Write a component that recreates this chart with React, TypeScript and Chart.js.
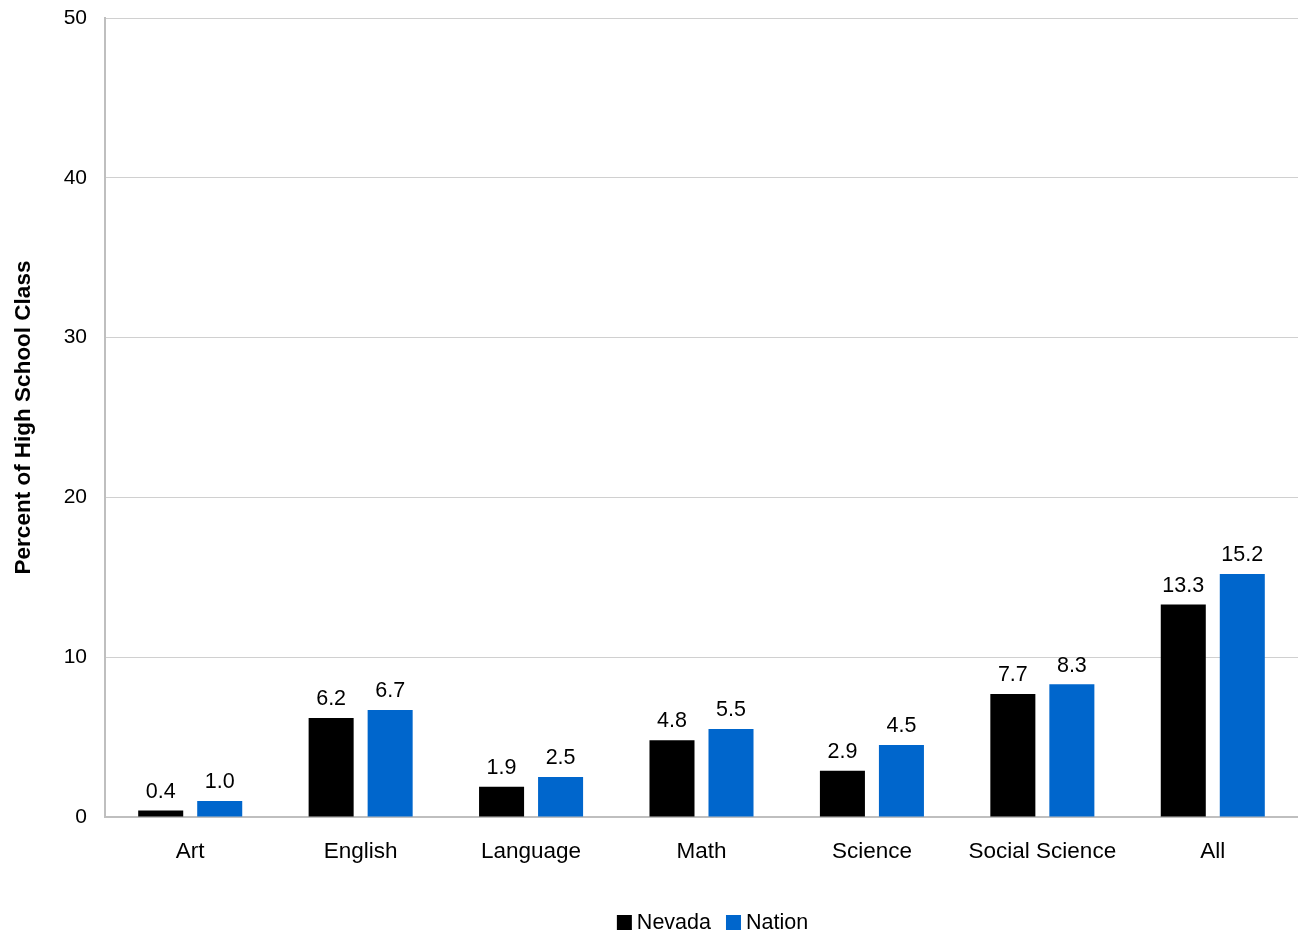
import React, { useEffect, useRef } from "react";
import { Chart, registerables } from "chart.js";

Chart.register(...registerables);

const categories = ["Art", "English", "Language", "Math", "Science", "Social Science", "All"];
const nevadaValues = [0.4, 6.2, 1.9, 4.8, 2.9, 7.7, 13.3];
const nationValues = [1.0, 6.7, 2.5, 5.5, 4.5, 8.3, 15.2];
const seriesNames = ["Nevada", "Nation"];
const seriesColors = ["#000000", "#0066CC"];
const yTitle = "Percent of High School Class";

const FONT = "Arial, 'Liberation Sans', sans-serif";

const valueLabels = {
  id: "valueLabels",
  afterDatasetsDraw(chart: any) {
    const ctx = chart.ctx;
    ctx.save();
    ctx.font = `21.5px ${FONT}`;
    ctx.fillStyle = "#000";
    ctx.textAlign = "center";
    ctx.textBaseline = "bottom";
    chart.data.datasets.forEach((ds: any, i: number) => {
      const meta = chart.getDatasetMeta(i);
      meta.data.forEach((bar: any, j: number) => {
        const v = ds.data[j] as number;
        ctx.fillText(v.toFixed(1), bar.x, bar.y - 8);
      });
    });
    ctx.restore();
  },
};

const customLegend = {
  id: "customLegend",
  afterDraw(chart: any) {
    const ctx = chart.ctx;
    ctx.save();
    ctx.font = `21.5px ${FONT}`;
    ctx.textBaseline = "alphabetic";
    ctx.textAlign = "left";
    const box = 15;
    const gapBoxText = 5;
    const gapItems = 15;
    const widths = seriesNames.map((n) => ctx.measureText(n).width);
    const total = widths.reduce((a, w) => a + box + gapBoxText + w, 0) + gapItems * (seriesNames.length - 1);
    const ca = chart.chartArea;
    let x = (ca.left + ca.right) / 2 + 11 - total / 2;
    const baseline = 929;
    seriesNames.forEach((n, i) => {
      ctx.fillStyle = seriesColors[i];
      ctx.fillRect(x, baseline - 14, box, box);
      x += box + gapBoxText;
      ctx.fillStyle = "#000";
      ctx.fillText(n, x, baseline);
      x += widths[i] + gapItems;
    });
    ctx.restore();
  },
};

export default function App() {
  const ref = useRef<HTMLCanvasElement | null>(null);
  useEffect(() => {
    if (!ref.current) return;
    const chart = new Chart(ref.current, {
      type: "bar",
      data: {
        labels: categories,
        datasets: [
          { label: seriesNames[0], data: nevadaValues, backgroundColor: seriesColors[0] },
          { label: seriesNames[1], data: nationValues, backgroundColor: seriesColors[1] },
        ],
      },
      options: {
        animation: false,
        responsive: false,
        devicePixelRatio: 1,
        datasets: { bar: { categoryPercentage: 0.6925, barPercentage: 0.763 } },
        layout: { padding: { top: 18, right: 0, bottom: 0, left: 0 } },
        plugins: { legend: { display: false }, tooltip: { enabled: false } },
        scales: {
          x: {
            grid: { display: false, drawTicks: false },
            border: { color: "#BFBFBF", width: 2 },
            ticks: { color: "#000", font: { family: FONT, size: 22.5 }, padding: 21 },
            afterFit: (s: any) => { s.height = 116; s.paddingLeft = 0; s.paddingRight = 0; },
          },
          y: {
            min: 0,
            max: 50,
            ticks: { stepSize: 10, color: "#000", font: { family: FONT, size: 21 }, padding: 18 },
            grid: { color: "#D0D0D0", drawTicks: false, lineWidth: 1 },
            border: { color: "#BFBFBF", width: 2 },
            title: {
              display: true,
              text: yTitle,
              color: "#000",
              font: { family: FONT, size: 22.5, weight: "bold" },
              padding: { top: 10, bottom: 0 },
            },
            afterFit: (s: any) => { s.width = 105; s.paddingTop = 0; s.paddingBottom = 0; },
          },
        },
      },
      plugins: [valueLabels, customLegend],
    } as any);
    return () => chart.destroy();
  }, []);
  return (
    <div style={{ position: "fixed", left: 0, top: 0, width: 1298, height: 933, background: "#fff" }}>
      <canvas ref={ref} width={1298} height={933} style={{ width: 1298, height: 933 }} />
    </div>
  );
}
